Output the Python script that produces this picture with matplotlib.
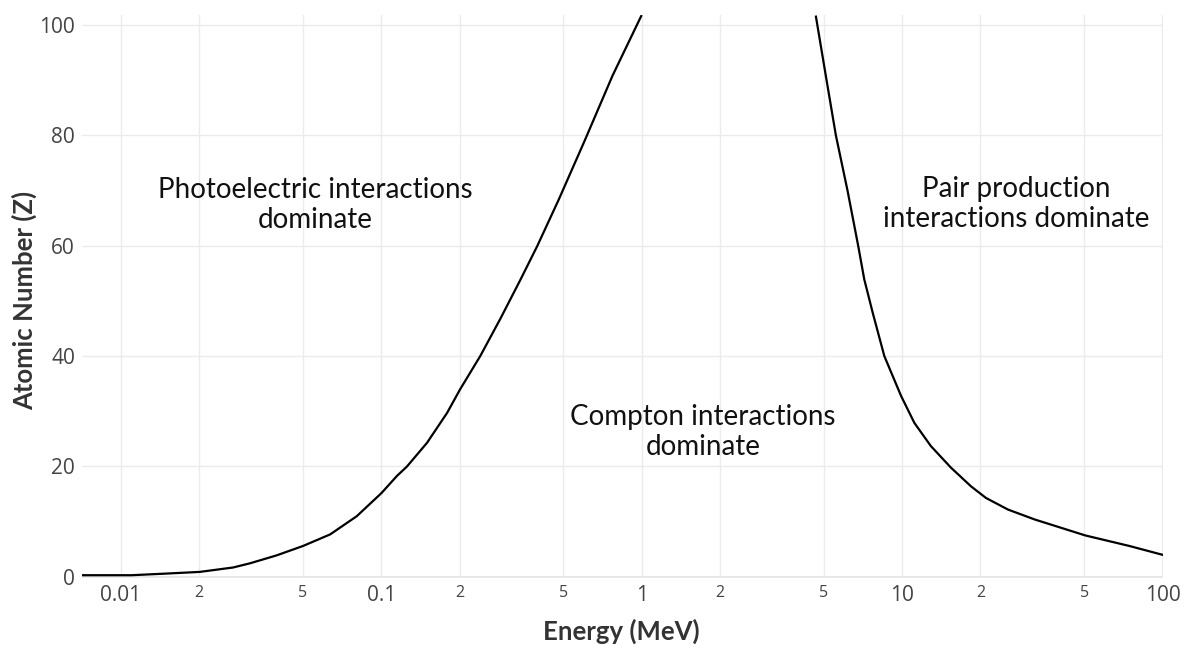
"""
Photon interaction dominance regions: atomic number vs. photon energy
"""

import matplotlib
matplotlib.use("Agg")
import matplotlib.pyplot as plt
from matplotlib.ticker import FixedLocator, NullFormatter

# Photoelectric / Compton boundary (energy in MeV, atomic number Z)
pe_energy = [0.00705, 0.0110, 0.0150, 0.0201, 0.0270, 0.0313, 0.0397, 0.0501,
             0.0637, 0.0806, 0.1003, 0.115, 0.1256, 0.150, 0.179, 0.201,
             0.240, 0.287, 0.343, 0.397, 0.481, 0.604, 0.773, 0.996]
pe_z = [0.3, 0.3, 0.6, 0.9, 1.7, 2.45, 3.9, 5.6,
        7.7, 11.0, 15.2, 18.3, 20.0, 24.3, 29.7, 34.0,
        40.0, 46.8, 53.9, 59.9, 68.4, 79.0, 90.8, 101.6]

# Compton / pair production boundary
pp_energy = [4.67, 5.10, 5.57, 6.18, 6.79, 7.16, 7.71, 8.55, 9.91, 11.15,
             12.9, 15.4, 18.4, 21.0, 25.5, 32.3, 50.6, 74.6, 100.0]
pp_z = [101.5, 90.7, 80.0, 69.9, 59.9, 53.9, 47.9, 40.0, 32.8, 27.9,
        23.7, 19.8, 16.4, 14.3, 12.2, 10.4, 7.5, 5.6, 4.0]

major_ticks = [0.01, 0.1, 1, 10, 100]
major_labels = ["0.01", "0.1", "1", "10", "100"]
minor_ticks = [0.02, 0.05, 0.2, 0.5, 2, 5, 20, 50]
minor_labels = ["2", "5", "2", "5", "2", "5", "2", "5"]
y_ticks = [0, 20, 40, 60, 80, 100]

regions = [
    ("Photoelectric interactions\ndominate", 0.0557, 67.4),
    ("Compton interactions\ndominate", 1.72, 26.3),
    ("Pair production\ninteractions dominate", 27.4, 67.6),
]

TICK_FONT = "Open Sans"
TEXT_FONT = "Lato"
GRID = "#ebebeb"
TICK_COLOR = "#444444"

fig = plt.figure(figsize=(11.84, 6.46), dpi=100)
ax = fig.add_axes([0.0693, 0.1053, 0.913, 0.8715])

ax.plot(pe_energy, pe_z, color="black", linewidth=1.6)
ax.plot(pp_energy, pp_z, color="black", linewidth=1.6)

ax.set_xscale("log")
ax.set_xlim(0.0071, 100.5)
ax.set_ylim(-0.2, 101.8)

# grid lines at every labelled position
ax.xaxis.set_major_locator(FixedLocator(major_ticks + minor_ticks))
ax.xaxis.set_minor_locator(FixedLocator([]))
ax.xaxis.set_major_formatter(NullFormatter())
ax.xaxis.set_minor_formatter(NullFormatter())
ax.set_yticks(y_ticks)
ax.grid(True, color=GRID, linewidth=1.0)
ax.set_axisbelow(True)
ax.tick_params(length=0)
for s in ax.spines.values():
    s.set_visible(False)
ax.axhline(0, color="#e0e0e0", linewidth=1.2, zorder=0)

ax.set_yticklabels([str(v) for v in y_ticks], fontfamily=TICK_FONT,
                   fontsize=15, color=TICK_COLOR)
ax.tick_params(axis="y", pad=5)

# x tick labels: big for decades, small for 2 and 5
trans = ax.get_xaxis_transform()
for v, lab in zip(major_ticks, major_labels):
    ax.text(v, -0.013, lab, transform=trans, ha="center", va="top",
            fontfamily=TICK_FONT, fontsize=15, color=TICK_COLOR)
for v, lab in zip(minor_ticks, minor_labels):
    ax.text(v, -0.013, lab, transform=trans, ha="center", va="top",
            fontfamily=TICK_FONT, fontsize=11.5, color=TICK_COLOR)

for txt, x, y in regions:
    ax.text(x, y, txt, ha="center", va="center", fontfamily=TEXT_FONT,
            fontsize=20, color="#111111", linespacing=1.2)

fig.text(0.525, 0.022, "Energy (MeV)", ha="center", va="center",
         fontfamily=TEXT_FONT, fontweight="bold", fontsize=18.5, color="#333333")
fig.text(0.021, 0.535, "Atomic Number (Z)", ha="center", va="center",
         rotation=90, fontfamily=TEXT_FONT, fontweight="bold", fontsize=18.5,
         color="#333333")

fig.savefig("out.png", dpi=100, facecolor="white")
